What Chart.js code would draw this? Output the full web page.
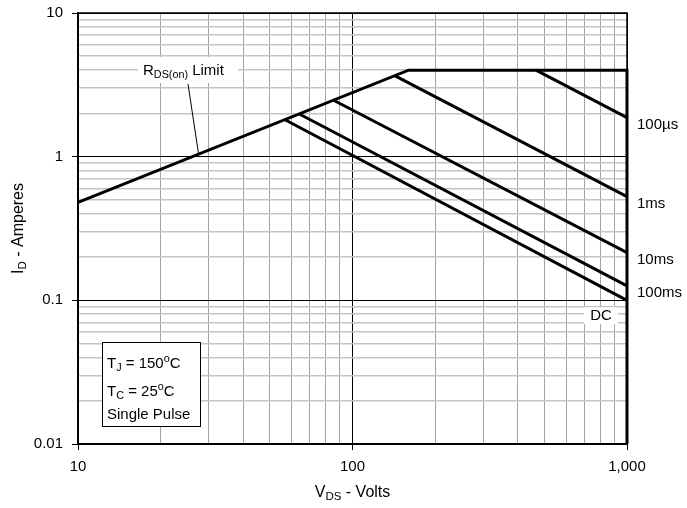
<!DOCTYPE html>
<html>
<head>
<meta charset="utf-8">
<script src="https://cdn.jsdelivr.net/npm/chart.js@4.4.1/dist/chart.umd.min.js"></script>
<style>
  html, body { margin: 0; padding: 0; background: #fff; }
  #wrap { width: 687px; height: 508px; }
</style>
</head>
<body>
<div id="wrap"><canvas id="soa"></canvas></div>
<script>
// axis decades (minor grid at 2..9 of each)
const xDecades = [10, 100, 1000];
const yDecades = [0.01, 0.1, 1, 10];

// RDS(on) limit -> 4 A limit -> 1000 V edge
const limitVds = [10, 160, 1000, 1000];
const limitId = [0.48, 4, 4, 0.01];

// pulse width curves
const pulseNames = ['100µs', '1ms', '10ms', '100ms', 'DC'];
const pulseVds = [[466, 1000], [143, 1000], [85, 1000], [64, 1000], [57, 1000]];
const pulseId = [[4, 1.87], [3.65, 0.527], [2.48, 0.215], [1.98, 0.126], [1.8, 0.1]];

const FONT = "'Liberation Sans', Arial, sans-serif";

function decadeTicks(decades) {
  const out = [];
  decades.forEach((d, i) => {
    if (i === decades.length - 1) { out.push(d); return; }
    for (let m = 1; m <= 9; m++) out.push(Number((m * d).toPrecision(6)));
  });
  return out;
}

function isMajor(v) {
  const l = Math.log10(v);
  return Math.abs(l - Math.round(l)) < 1e-6;
}

function xy(xs, ys) {
  return xs.map((x, i) => ({ x: x, y: ys[i] }));
}

const lineStyle = {
  borderColor: '#000',
  borderWidth: 3,
  pointRadius: 0,
  tension: 0,
  clip: false,
  borderJoinStyle: 'miter',
  borderCapStyle: 'butt'
};

const datasets = [Object.assign({ label: 'limit', data: xy(limitVds, limitId) }, lineStyle)];
pulseNames.forEach((n, i) => {
  datasets.push(Object.assign({ label: n, data: xy(pulseVds[i], pulseId[i]) }, lineStyle));
});

// text with sub/superscripts
function drawRich(ctx, parts, x, y, size, align) {
  const small = size * 0.72;
  let w = 0;
  parts.forEach(p => {
    ctx.font = (p.s ? small : size) + 'px ' + FONT;
    w += ctx.measureText(p.t).width;
  });
  let cx = align === 'center' ? x - w / 2 : (align === 'right' ? x - w : x);
  ctx.textAlign = 'left';
  ctx.textBaseline = 'alphabetic';
  parts.forEach(p => {
    ctx.font = (p.s ? small : size) + 'px ' + FONT;
    let dy = 0;
    if (p.s === 'sub') dy = size * 0.2;
    if (p.s === 'sup') dy = -size * 0.42;
    ctx.fillText(p.t, cx, y + dy);
    cx += ctx.measureText(p.t).width;
  });
}

// point on the RDS(on) segment (log-log interpolation)
function rdsAt(v) {
  const a = Math.log10(limitVds[0]), b = Math.log10(limitVds[1]);
  const ya = Math.log10(limitId[0]), yb = Math.log10(limitId[1]);
  const t = (Math.log10(v) - a) / (b - a);
  return Math.pow(10, ya + t * (yb - ya));
}

const decor = {
  id: 'decor',
  beforeDatasetsDraw(chart) {
    const ctx = chart.ctx, ca = chart.chartArea;
    const ys = chart.scales.y;
    ctx.save();
    // frame
    ctx.strokeStyle = '#000';
    ctx.lineWidth = 1.5;
    ctx.strokeRect(ca.left, ca.top, ca.right - ca.left, ca.bottom - ca.top);
    // white backings for labels inside the grid
    ctx.fillStyle = '#fff';
    ctx.fillRect(ca.left + 60, ca.top + 44, 100, 26);
    const dcY = ys.getPixelForValue(0.1);
    ctx.fillRect(ca.right - 43, dcY + 7, 34, 17);
    ctx.restore();
  },
  afterDatasetsDraw(chart) {
    const ctx = chart.ctx, ca = chart.chartArea;
    const xs = chart.scales.x, ys = chart.scales.y;
    ctx.save();
    ctx.fillStyle = '#000';

    // RDS(on) label and pointer
    drawRich(ctx, [{ t: 'R' }, { t: 'DS(on)', s: 'sub' }, { t: ' Limit' }], ca.left + 65, ca.top + 62, 15, 'left');
    const pv = 27.5;
    ctx.strokeStyle = '#000';
    ctx.lineWidth = 1;
    ctx.beginPath();
    ctx.moveTo(ca.left + 110, ca.top + 71);
    ctx.lineTo(xs.getPixelForValue(pv), ys.getPixelForValue(rdsAt(pv)));
    ctx.stroke();

    // curve names at the right edge
    pulseNames.forEach((n, i) => {
      const yEnd = ys.getPixelForValue(pulseId[i][1]);
      ctx.font = '15px ' + FONT;
      ctx.textBaseline = 'middle';
      if (n === 'DC') {
        ctx.textAlign = 'center';
        ctx.fillText(n, ca.right - 26, yEnd + 16);
      } else {
        ctx.textAlign = 'left';
        ctx.fillText(n, ca.right + 10, yEnd + 7);
      }
    });

    // conditions box
    const bx = ca.left + 24, by = ca.bottom - 102;
    ctx.fillStyle = '#fff';
    ctx.fillRect(bx, by, 98, 84);
    ctx.lineWidth = 1;
    ctx.strokeRect(bx + 0.5, by + 0.5, 98, 84);
    ctx.fillStyle = '#000';
    drawRich(ctx, [{ t: 'T' }, { t: 'J', s: 'sub' }, { t: ' = 150' }, { t: 'o', s: 'sup' }, { t: 'C' }], bx + 5, by + 26, 15, 'left');
    drawRich(ctx, [{ t: 'T' }, { t: 'C', s: 'sub' }, { t: ' = 25' }, { t: 'o', s: 'sup' }, { t: 'C' }], bx + 5, by + 54, 15, 'left');
    drawRich(ctx, [{ t: 'Single Pulse' }], bx + 5, by + 77, 15, 'left');

    // axis titles
    drawRich(ctx, [{ t: 'V' }, { t: 'DS', s: 'sub' }, { t: ' - Volts' }], (ca.left + ca.right) / 2, 497, 16, 'center');
    ctx.save();
    ctx.translate(23, (ca.top + ca.bottom) / 2);
    ctx.rotate(-Math.PI / 2);
    drawRich(ctx, [{ t: 'I' }, { t: 'D', s: 'sub' }, { t: ' - Amperes' }], 0, 0, 16, 'center');
    ctx.restore();

    ctx.restore();
  }
};

// minor lines: vertical thin grey, horizontal a bit wider and lighter
function gridOpts(minorColor, minorWidth) {
  return {
    color: c => isMajor(c.tick.value) ? '#000' : minorColor,
    lineWidth: c => isMajor(c.tick.value) ? 1 : minorWidth,
    tickColor: c => isMajor(c.tick.value) ? '#000' : 'rgba(0,0,0,0)',
    tickLength: 6,
    drawTicks: true
  };
}

new Chart(document.getElementById('soa'), {
  type: 'line',
  data: { datasets: datasets },
  options: {
    responsive: true,
    maintainAspectRatio: false,
    animation: false,
    layout: { padding: { top: 13, right: 60, left: 0, bottom: 0 } },
    plugins: { legend: { display: false }, tooltip: { enabled: false } },
    scales: {
      x: {
        type: 'logarithmic',
        min: xDecades[0],
        max: xDecades[xDecades.length - 1],
        afterBuildTicks: s => { s.ticks = decadeTicks(xDecades).map(v => ({ value: v })); },
        afterFit: s => { s.height = 64; s.paddingLeft = 0; s.paddingRight = 0; },
        ticks: {
          autoSkip: false,
          maxRotation: 0,
          padding: 8,
          color: '#000',
          font: { family: FONT, size: 15 },
          callback: v => isMajor(v) ? v.toLocaleString('en-US') : ''
        },
        grid: gridOpts('#a4a4a4', 1),
        border: { color: '#000', width: 1.5 }
      },
      y: {
        type: 'logarithmic',
        min: yDecades[0],
        max: yDecades[yDecades.length - 1],
        afterBuildTicks: s => { s.ticks = decadeTicks(yDecades).map(v => ({ value: v })); },
        afterFit: s => { s.width = 78; s.paddingTop = 0; s.paddingBottom = 0; },
        ticks: {
          autoSkip: false,
          padding: 9,
          color: '#000',
          font: { family: FONT, size: 15 },
          callback: v => isMajor(v) ? String(v) : ''
        },
        grid: gridOpts('#c4c4c4', 1.6),
        border: { color: '#000', width: 1.5 }
      }
    }
  },
  plugins: [decor]
});
</script>
</body>
</html>
